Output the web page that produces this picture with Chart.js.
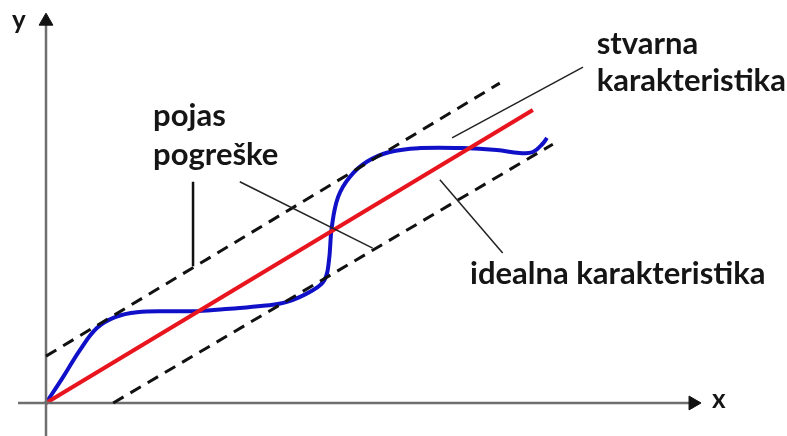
<!DOCTYPE html>
<html>
<head>
<meta charset="utf-8">
<script src="https://cdn.jsdelivr.net/npm/chart.js@4"></script>
<style>
  html, body { margin: 0; padding: 0; background: #fff; }
  #wrap { width: 787px; height: 436px; position: relative; }
</style>
</head>
<body>
<div id="wrap"><canvas id="chart"></canvas></div>
<script>
// ideal characteristic (red) and the error band (dashed)
const idealLine = [{ x: 0, y: 0 }, { x: 10.0, y: 6.0 }];
const bandUpper = [{ x: 0, y: 0.96 }, { x: 9.32, y: 6.55 }];
const bandLower = [{ x: 1.38, y: 0 }, { x: 10.41, y: 5.3 }];

const realX = [0, 0.35, 0.70, 1.05, 1.42, 1.87, 2.55, 3.10, 3.78, 4.46, 4.95, 5.48, 5.72, 5.81, 5.87, 6.00, 6.24, 6.59, 7.06, 7.68, 8.56, 9.26, 9.73, 10.00, 10.21, 10.29];
const realY = [0, 0.53, 1.09, 1.54, 1.76, 1.86, 1.88, 1.88, 1.93, 1.99, 2.07, 2.31, 2.52, 2.90, 3.60, 4.22, 4.63, 4.94, 5.14, 5.22, 5.22, 5.18, 5.12, 5.14, 5.32, 5.43];

// axes with arrow heads
const xAxisLine = [{ x: -0.575, y: 0 }, { x: 13.29, y: 0 }];
const yAxisLine = [{ x: 0, y: -0.7 }, { x: 0, y: 7.82 }];

// leader lines from the labels
const leaderPojas = [{ x: 3.02, y: 4.53 }, { x: 3.02, y: 2.80 }];
const leaderPogreske = [{ x: 3.98, y: 4.53 }, { x: 6.71, y: 3.17 }];
const leaderStvarna = [{ x: 11.03, y: 6.88 }, { x: 8.34, y: 5.43 }];
const leaderIdealna = [{ x: 8.09, y: 4.57 }, { x: 9.38, y: 3.07 }];

const labelTexts = ["pojas", "pogreške", "stvarna", "karakteristika", "idealna karakteristika", "x", "y"];
const labelAnchors = [[2.20, 5.67], [2.20, 4.87], [11.31, 7.15], [11.31, 6.39], [8.71, 2.44], [13.68, -0.10], [-0.70, 7.66]];

const realLine = realX.map((x, i) => ({ x, y: realY[i] }));

function seg(data, color, width, dash) {
  return {
    data, borderColor: color, borderWidth: width, borderDash: dash || [],
    pointRadius: 0, showLine: true, fill: false, tension: 0
  };
}

const labelPlugin = {
  id: "labels",
  afterDatasetsDraw(chart) {
    const { ctx, scales } = chart;
    ctx.save();
    ctx.fillStyle = "#151515";
    ctx.textBaseline = "alphabetic";
    ctx.textAlign = "left";
    labelTexts.forEach((t, i) => {
      const big = t.length > 1;
      ctx.font = (big ? "bold 31px" : "bold 26px") + " Lato, 'Open Sans', sans-serif";
      ctx.fillText(t, scales.x.getPixelForValue(labelAnchors[i][0]), scales.y.getPixelForValue(labelAnchors[i][1]));
    });
    ctx.restore();
  }
};

new Chart(document.getElementById("chart"), {
  type: "scatter",
  data: {
    datasets: [
      seg(leaderPojas, "#111", 2.5),
      seg(leaderPogreske, "#222", 1.5),
      seg(leaderStvarna, "#222", 1.5),
      seg(leaderIdealna, "#222", 1.5),
      seg(bandUpper, "#111", 3, [12, 8]),
      seg(bandLower, "#111", 3, [12, 8]),
      Object.assign(seg(xAxisLine, "#6e6e6e", 2.5), {
        pointRadius: [0, 8], pointStyle: "triangle", rotation: 90,
        pointBackgroundColor: "#111", pointBorderColor: "#111", pointBorderWidth: 1
      }),
      Object.assign(seg(yAxisLine, "#6e6e6e", 2.5), {
        pointRadius: [0, 8], pointStyle: "triangle", rotation: 0,
        pointBackgroundColor: "#111", pointBorderColor: "#111", pointBorderWidth: 1
      }),
      seg(idealLine, "#e8141e", 4),
      Object.assign(seg(realLine, "#1010c8", 4), { tension: 0.4 })
    ]
  },
  options: {
    responsive: true,
    maintainAspectRatio: false,
    animation: false,
    layout: { padding: 0, autoPadding: false },
    plugins: { legend: { display: false }, tooltip: { enabled: false } },
    scales: {
      x: { type: "linear", min: -0.945, max: 15.22, display: false },
      y: { type: "linear", min: -0.676, max: 8.253, display: false }
    }
  },
  plugins: [labelPlugin]
});
</script>
</body>
</html>
